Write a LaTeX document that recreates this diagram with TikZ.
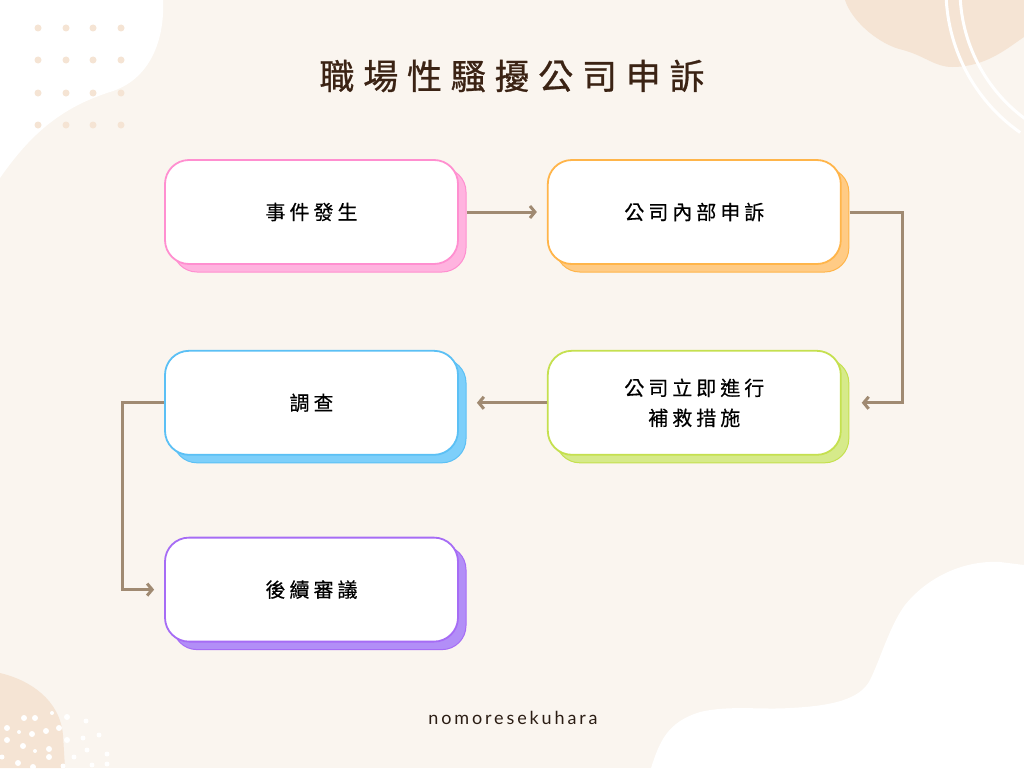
\documentclass[tikz,border=0pt]{standalone}
\usepackage{fontspec}
\usepackage{xcolor}
\usepackage{tikz}
\usetikzlibrary{positioning, arrows.meta, shadows}
\newfontfamily\cjkbox[LetterSpace=20, FakeBold=0.4]{Noto Sans CJK TC}
\newfontfamily\cjktitle[LetterSpace=25, FakeBold=0.8]{Noto Sans CJK TC}
\newfontfamily\footfont[LetterSpace=16]{Lato}
\definecolor{cream}{HTML}{FAF5EF}
\definecolor{peach}{HTML}{F5E4D4}
\definecolor{titlebrown}{HTML}{3B2314}
\definecolor{footbrown}{HTML}{2B1D14}
\definecolor{arrowbrown}{HTML}{A08A72}
\definecolor{pinkline}{HTML}{FF8FD0}
\definecolor{pinkfill}{HTML}{FFB3DF}
\definecolor{orangeline}{HTML}{FFB54A}
\definecolor{orangefill}{HTML}{FFCB85}
\definecolor{greenline}{HTML}{C5E04F}
\definecolor{greenfill}{HTML}{D6EA8A}
\definecolor{blueline}{HTML}{5BC0F5}
\definecolor{bluefill}{HTML}{7DCFFA}
\definecolor{purpleline}{HTML}{A66CF5}
\definecolor{purplefill}{HTML}{B28EF7}

\tikzset{
  card/.style 2 args={rectangle, rounded corners=24pt, minimum width=293pt,
    minimum height=104pt, fill=white, draw=#1, line width=1.8pt,
    copy shadow={fill=#2, draw=#1, line width=1pt, shadow xshift=8pt, shadow yshift=-8pt},
    font=\cjkbox\fontsize{20}{30}\selectfont, align=center, text=black},
  flow/.style={draw=arrowbrown, line width=3pt,
    -{Straight Barb[length=5pt, width=12pt]}},
}

\begin{document}
\begin{tikzpicture}[x=1pt, y=-1pt]
  \useasboundingbox (0,0) rectangle (1024,768);
  % background and blobs
  \fill[cream] (0,0) rectangle (1024,768);
  \fill[white] (0,0) -- (163,0) .. controls (165,40) and (150,80) .. (110,92)
    .. controls (60,108) and (30,135) .. (0,178) -- cycle;
  \foreach \x in {38,66,93,121}
    \foreach \y in {28,60,93,125}
      \fill[peach] (\x,\y) circle[radius=3.5];
  \fill[peach] (845,0) .. controls (852,22) and (880,45) .. (903,50)
    .. controls (925,56) and (935,67) .. (952,67)
    .. controls (985,67) and (1005,50) .. (1024,37) -- (1024,0) -- cycle;
  \draw[white, line width=3pt] (1120,-10) ++(180:174) arc[start angle=180, end angle=125, radius=174];
  \draw[white, line width=3pt] (1120,-10) ++(180:160) arc[start angle=180, end angle=125, radius=160];
  \fill[white] (651,768) .. controls (660,740) and (668,722) .. (700,712)
    .. controls (730,705) and (760,710) .. (790,708)
    .. controls (830,706) and (860,700) .. (870,680)
    .. controls (880,660) and (890,625) .. (905,605)
    .. controls (925,580) and (960,560) .. (1000,562)
    -- (1024,565) -- (1024,768) -- cycle;
  \fill[peach] (0,673) .. controls (30,680) and (60,700) .. (63,735)
    -- (65,768) -- (0,768) -- cycle;
  \foreach \x/\y/\r in {24/718/3, 35/718/3, 52/713/2, 67/717/3, 86/721/2.5,
      7/728/3, 19/732/2, 32/734/3, 46/731/3, 59/728/3, 7/740/3, 23/746/3,
      35/751/2, 49/749/3, 67/740/3, 83/738/2.5, 99/735/2.5, 87/750/2.5,
      107/754/2.5, 2/757/2.5, 18/763/3, 49/757/3, 74/757/2.5, 33/767/3,
      63/766/2.5, 92/765/2.5, 107/764/2.5}
    \fill[white] (\x,\y) circle[radius=\r];

  % title
  \node[font=\cjktitle\fontsize{35}{42}\selectfont, text=titlebrown] (title) at (512,76) {職場性騷擾公司申訴};

  % steps
  \node[card={pinkline}{pinkfill}] (happen) at (311.5,212) {事件發生};
  \node[card={orangeline}{orangefill}, right=88pt of happen] (report) {公司內部申訴};
  \node[card={blueline}{bluefill}, below=85pt of happen] (probe) {調查};
  \node[card={greenline}{greenfill}, right=88pt of probe] (remedy) {公司立即進行\\補救措施};
  \node[card={purpleline}{purplefill}, below=81pt of probe] (review) {後續審議};

  % connectors
  \draw[flow] ([xshift=8pt]happen.east) -- ([xshift=-10pt]report.west);
  \draw[flow] ([xshift=8pt]report.east) -- ++(53,0) |- ([xshift=20pt]remedy.east);
  \draw[flow] (remedy.west) -- ([xshift=18pt]probe.east);
  \draw[flow] (probe.west) -- ++(-42,0) |- ([xshift=-10pt]review.west);

  % footer
  \node[font=\footfont\fontsize{18}{20}\selectfont, text=footbrown] (credit) at (513,718) {nomoresekuhara};
\end{tikzpicture}
\end{document}
